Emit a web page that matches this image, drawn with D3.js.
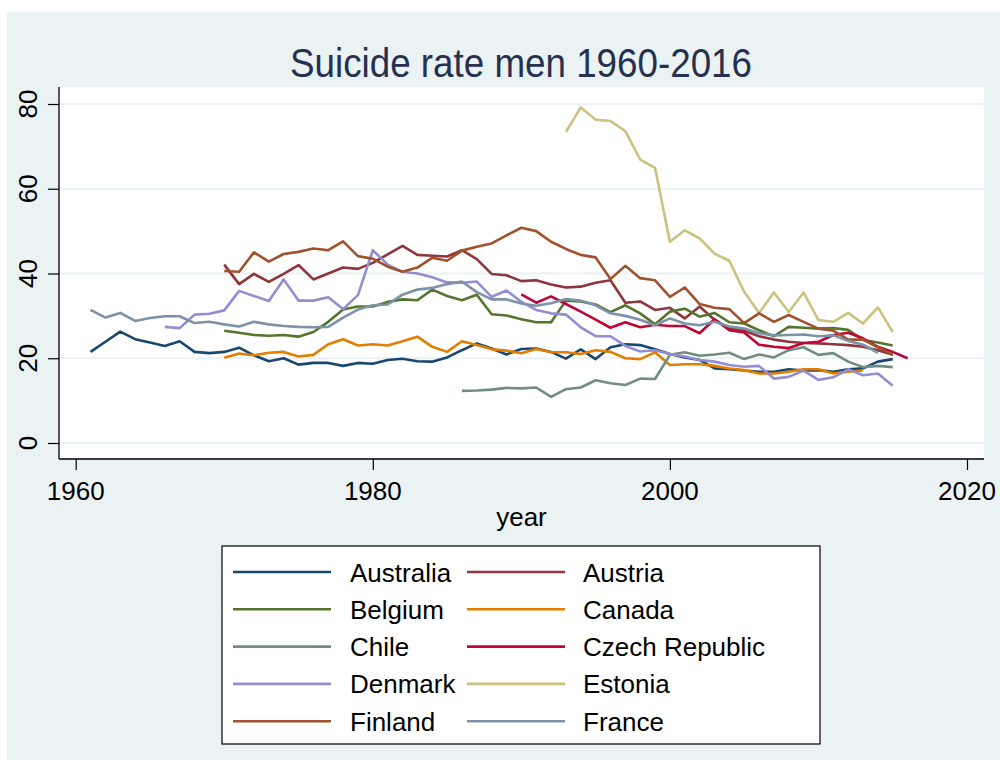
<!DOCTYPE html>
<html><head><meta charset="utf-8">
<script src="https://cdn.jsdelivr.net/npm/d3@7"></script>
<style>body{margin:0;background:#fff}svg{display:block}</style>
</head><body><svg id="c" width="1000" height="760"></svg>
<script>
// ---- data (suicide rate, men, per 100 000) ----
const countries = ["Australia","Austria","Belgium","Canada","Chile","Czech Republic","Denmark","Estonia","Finland","France"];
const startYears = [1961,1970,1970,1970,1986,1990,1966,1993,1970,1961];
const australia = [21.5,23.9,26.3,24.5,23.7,22.9,24.0,21.5,21.2,21.5,22.5,20.7,19.3,20.0,18.5,18.9,18.9,18.2,18.9,18.7,19.6,19.9,19.3,19.2,20.2,21.9,23.5,22.3,20.9,22.2,22.3,21.5,19.9,22.1,19.8,22.6,23.3,23.1,22.1,21.0,20.2,19.6,17.6,17.4,17.1,16.8,16.8,17.4,17.1,17.2,16.8,17.4,17.6,19.2,19.8];
const austria = [42.1,37.5,39.9,38.0,39.9,42.0,38.6,40.0,41.4,41.1,42.5,44.5,46.5,44.4,44.2,44.0,45.5,43.4,39.9,39.6,38.2,38.4,37.4,36.7,36.9,37.8,38.4,33.1,33.4,31.4,31.9,29.4,32.2,29.1,27.0,26.5,25.2,24.4,23.9,23.6,23.5,23.3,23.1,22.7,21.9,20.8];
const belgium = [26.5,26.0,25.5,25.3,25.5,25.1,26.2,28.6,31.5,32.2,32.2,33.3,33.9,33.7,36.2,34.7,33.7,35.0,30.4,30.1,29.2,28.5,28.5,33.6,33.4,32.7,30.9,32.5,30.6,28.0,31.0,31.7,29.8,30.7,28.5,28.2,26.6,25.2,27.4,27.2,27.0,27.1,26.7,24.3,23.7,23.0];
const canada = [20.1,21.1,20.7,21.3,21.5,20.4,20.8,23.3,24.5,23.0,23.3,23.0,24.0,25.1,22.7,21.5,24.0,23.1,22.1,21.8,21.2,22.2,21.4,21.4,21.0,21.9,21.5,20.0,19.8,21.4,18.4,18.6,18.6,18.2,17.6,17.2,16.4,16.4,16.8,17.4,17.4,16.4,16.8,17.1];
const chile = [12.3,12.4,12.6,13.0,12.9,13.1,10.9,12.7,13.1,14.8,14.1,13.7,15.2,15.1,20.8,21.4,20.6,20.9,21.3,19.8,20.9,20.2,21.9,22.6,20.8,21.2,19.2,17.9,18.2,17.9];
const czechRepublic = [35.1,33.1,34.6,32.8,31.0,29.1,27.2,28.5,27.3,27.9,27.6,27.6,25.9,29.2,26.6,26.1,23.2,22.7,22.4,23.6,23.9,25.5,26.0,24.7,22.7,21.5,20.0];
const denmark = [27.4,27.1,30.3,30.5,31.3,35.9,34.7,33.5,38.6,33.6,33.6,34.4,31.6,34.9,45.5,42.1,40.4,40.0,39.1,37.9,37.8,38.1,34.5,36.0,33.3,31.4,30.6,30.3,27.3,25.2,25.2,22.9,21.6,21.9,21.0,20.4,19.6,19.2,18.4,18.0,18.2,15.2,15.6,17.1,14.9,15.5,17.4,16.0,16.4,13.5];
const estonia = [73.4,79.2,76.3,76.0,73.6,66.9,64.9,47.5,50.2,48.3,44.7,43.0,35.7,30.7,35.5,30.9,35.5,29.0,28.6,30.7,28.2,32.0,26.2];
const finland = [40.6,40.4,45.0,42.8,44.6,45.1,45.9,45.5,47.6,44.1,43.5,41.6,40.4,41.4,43.7,43.0,45.4,46.3,47.1,49.0,50.8,50.0,47.5,45.8,44.4,43.8,38.7,41.8,38.9,38.4,34.5,36.7,32.8,31.9,31.6,28.3,30.6,28.6,30.2,28.6,27.0,26.5,24.4,24.4,22.6,20.8];
const france = [31.4,29.6,30.7,28.8,29.5,29.9,29.9,28.3,28.6,28.0,27.5,28.6,28.0,27.6,27.4,27.3,27.4,29.6,31.5,32.5,32.7,35.0,36.2,36.6,37.5,38.1,35.6,33.9,33.9,32.9,32.4,33.0,34.0,33.6,32.5,30.6,30.0,29.1,27.8,29.4,28.2,27.8,28.6,27.5,27.0,25.9,25.4,25.5,25.6,25.2,25.4,24.1,23.2,21.3];
const seriesValues = [australia,austria,belgium,canada,chile,czechRepublic,denmark,estonia,finland,france];
const colors = ["#1a476f","#90353b","#55752f","#e37e00","#6e8e84","#c10534","#938dd2","#cac27e","#a0522d","#7b92a8"];
const xTicks = [1960,1980,2000,2020];
const yTicks = [0,20,40,60,80];
const titleText = "Suicide rate men 1960-2016";
const xTitle = "year";

// ---- layout ----
const svg = d3.select("#c");
const font = "'Liberation Sans', Arial, Helvetica, sans-serif";
const plot = {left:59, right:984, top:87, bottom:459};
const x = d3.scaleLinear().domain([1960,2020]).range([75.7,967]);
const y = d3.scaleLinear().domain([0,80]).range([443,104]);

svg.append("rect").attr("x",0).attr("y",0).attr("width",1000).attr("height",760).attr("fill","#ffffff");
svg.append("rect").attr("x",7).attr("y",12).attr("width",993).attr("height",748).attr("fill","#eaf2f3");
svg.append("rect").attr("x",plot.left).attr("y",plot.top).attr("width",plot.right-plot.left).attr("height",plot.bottom-plot.top).attr("fill","#ffffff");

// grid
svg.append("g").selectAll("line").data(yTicks).join("line")
  .attr("x1",plot.left).attr("x2",plot.right)
  .attr("y1",d=>y(d)).attr("y2",d=>y(d))
  .attr("stroke","#eaf2f3").attr("stroke-width",2);

// axes
const yAxis = d3.axisLeft(y).tickValues(yTicks).tickSize(11).tickFormat("");
const gy = svg.append("g").attr("transform",`translate(${plot.left},0)`).call(yAxis);
gy.select(".domain").remove();
gy.selectAll(".tick line").attr("stroke","#000").attr("stroke-width",1.2);
const xAxis = d3.axisBottom(x).tickValues(xTicks).tickSize(11).tickFormat("");
const gx = svg.append("g").attr("transform",`translate(0,${plot.bottom})`).call(xAxis);
gx.select(".domain").remove();
gx.selectAll(".tick line").attr("stroke","#000").attr("stroke-width",1.2);
svg.append("line").attr("x1",plot.left).attr("x2",plot.left).attr("y1",plot.top).attr("y2",plot.bottom).attr("stroke","#000").attr("stroke-width",1.3);
svg.append("line").attr("x1",plot.left).attr("x2",plot.right).attr("y1",plot.bottom).attr("y2",plot.bottom).attr("stroke","#000").attr("stroke-width",1.3);

// tick labels
svg.append("g").selectAll("text").data(xTicks).join("text")
  .attr("x",d=>x(d)).attr("y",500).attr("text-anchor","middle")
  .attr("font-family",font).attr("font-size",26).attr("fill","#000").text(d=>d);
svg.append("g").selectAll("text").data(yTicks).join("text")
  .attr("transform",d=>`translate(37,${y(d)}) rotate(-90)`).attr("text-anchor","middle")
  .attr("font-family",font).attr("font-size",26).attr("fill","#000").text(d=>d);

// titles
svg.append("text").attr("x",521.5).attr("y",526).attr("text-anchor","middle")
  .attr("font-family",font).attr("font-size",26).attr("fill","#000").text(xTitle);
svg.append("text").attr("x",521).attr("y",77).attr("text-anchor","middle")
  .attr("font-family",font).attr("font-size",40).attr("fill","#263050")
  .attr("textLength",462).attr("lengthAdjust","spacingAndGlyphs").text(titleText);

// lines
const line = d3.line().x(d=>x(d.year)).y(d=>y(d.value));
const series = countries.map((c,i)=>({name:c,color:colors[i],
  points:seriesValues[i].map((v,j)=>({year:startYears[i]+j,value:v}))}));
svg.append("g").attr("fill","none").selectAll("path").data(series).join("path")
  .attr("d",d=>line(d.points)).attr("stroke",d=>d.color)
  .attr("stroke-width",2.6).attr("stroke-linejoin","round");

// legend
const lg = svg.append("g");
lg.append("rect").attr("x",222).attr("y",546).attr("width",598).attr("height",198)
  .attr("fill","#fff").attr("stroke","#000").attr("stroke-width",1.2);
const rowY = i => 572 + i*37.3;
const colLine = [233,467], colText = [350,583];
series.forEach((s,i)=>{
  const c = i%2, r = Math.floor(i/2);
  lg.append("line").attr("x1",colLine[c]).attr("x2",colLine[c]+98).attr("y1",rowY(r)).attr("y2",rowY(r))
    .attr("stroke",s.color).attr("stroke-width",2.6);
  lg.append("text").attr("x",colText[c]).attr("y",rowY(r)+9.5).attr("font-family",font)
    .attr("font-size",26).attr("fill","#000").text(s.name);
});
</script></body></html>
